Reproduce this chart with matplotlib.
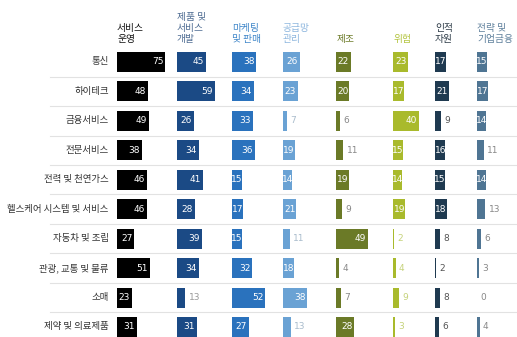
import matplotlib
matplotlib.use('Agg')
import matplotlib.pyplot as plt
from matplotlib import font_manager

plt.rcParams['font.family'] = ['Noto Sans CJK KR', 'DejaVu Sans']

# industries (rows, top to bottom)
industries = ['통신', '하이테크', '금융서비스', '전문서비스', '전력 및 천연가스',
              '헬스케어 시스템 및 서비스', '자동차 및 조립', '관광, 교통 및 물류',
              '소매', '제약 및 의료제품']

# business functions (columns)
functions = ['서비스\n운영', '제품 및\n서비스\n개발', '마케팅\n및 판매', '공급망\n관리',
             '제조', '위험', '인적\n자원', '전략 및\n기업금융']

service_ops = [75, 48, 49, 38, 46, 46, 27, 51, 23, 31]
product_dev = [45, 59, 26, 34, 41, 28, 39, 34, 13, 31]
marketing = [38, 34, 33, 36, 15, 17, 15, 32, 52, 27]
supply_chain = [26, 23, 7, 19, 14, 21, 11, 18, 38, 13]
manufacturing = [22, 20, 6, 11, 19, 9, 49, 4, 7, 28]
risk = [23, 17, 40, 15, 14, 19, 2, 4, 9, 3]
hr = [17, 21, 9, 16, 15, 18, 8, 2, 8, 6]
strategy = [15, 17, 14, 11, 14, 13, 6, 3, 0, 4]

series = [service_ops, product_dev, marketing, supply_chain,
          manufacturing, risk, hr, strategy]

bar_colors = ['#000000', '#1b4a85', '#2a72bd', '#6aa2d4',
              '#6b7a27', '#a9ba2c', '#1f3a50', '#4f7593']
head_colors = ['#111111', '#4e6c92', '#3f86c9', '#8db6de',
               '#6f7d2c', '#b3c43f', '#2d3b47', '#5d7f9b']
out_colors = ['#777777', '#999999', '#999999', '#a9bccc',
              '#888888', '#c5d27a', '#555555', '#888888']

# narrow face for the value labels if it is around
names = {f.name for f in font_manager.fontManager.ttflist}
num_font = ['Liberation Sans Narrow'] if 'Liberation Sans Narrow' in names else ['DejaVu Sans']

# left edge of each column, in value units
col_start = [0, 93, 178, 257, 340, 428, 493, 558]

fig = plt.figure(figsize=(5.17, 3.37), dpi=100)
ax = fig.add_axes([117 / 517, 0, 400 / 517, 1])
ax.set_xlim(0, 620)
ax.set_ylim(9.34, -2.105)
ax.axis('off')

bar_h = 0.68
rows = list(range(len(industries)))

for c, vals in enumerate(series):
    x0 = col_start[c]
    ax.barh(rows, vals, left=x0, height=bar_h, color=bar_colors[c],
            edgecolor='none')
    for r, v in enumerate(vals):
        if v >= 14:
            xc = x0 + max(v - 12, v / 2)
            ax.text(xc, r, str(v), ha='center', va='center', color='white',
                    fontsize=6.5, family=num_font)
        else:
            ax.text(x0 + v + 5, r, str(v), ha='left', va='center',
                    color=out_colors[c], fontsize=6.5, family=num_font)
    ax.text(x0, -0.6, functions[c], ha='left', va='bottom',
            color=head_colors[c], fontsize=7, linespacing=1.15)

for r, name in enumerate(industries):
    ax.text(-13, r, name, ha='right', va='center', color='#333333', fontsize=6.8)

# row separators
for r in rows[:-1]:
    ax.axhline(r + 0.5, xmin=(50 - 117) / 400, xmax=1, color='#e2e2e2',
               linewidth=0.8, clip_on=False)

fig.savefig('out.png', dpi=100)
